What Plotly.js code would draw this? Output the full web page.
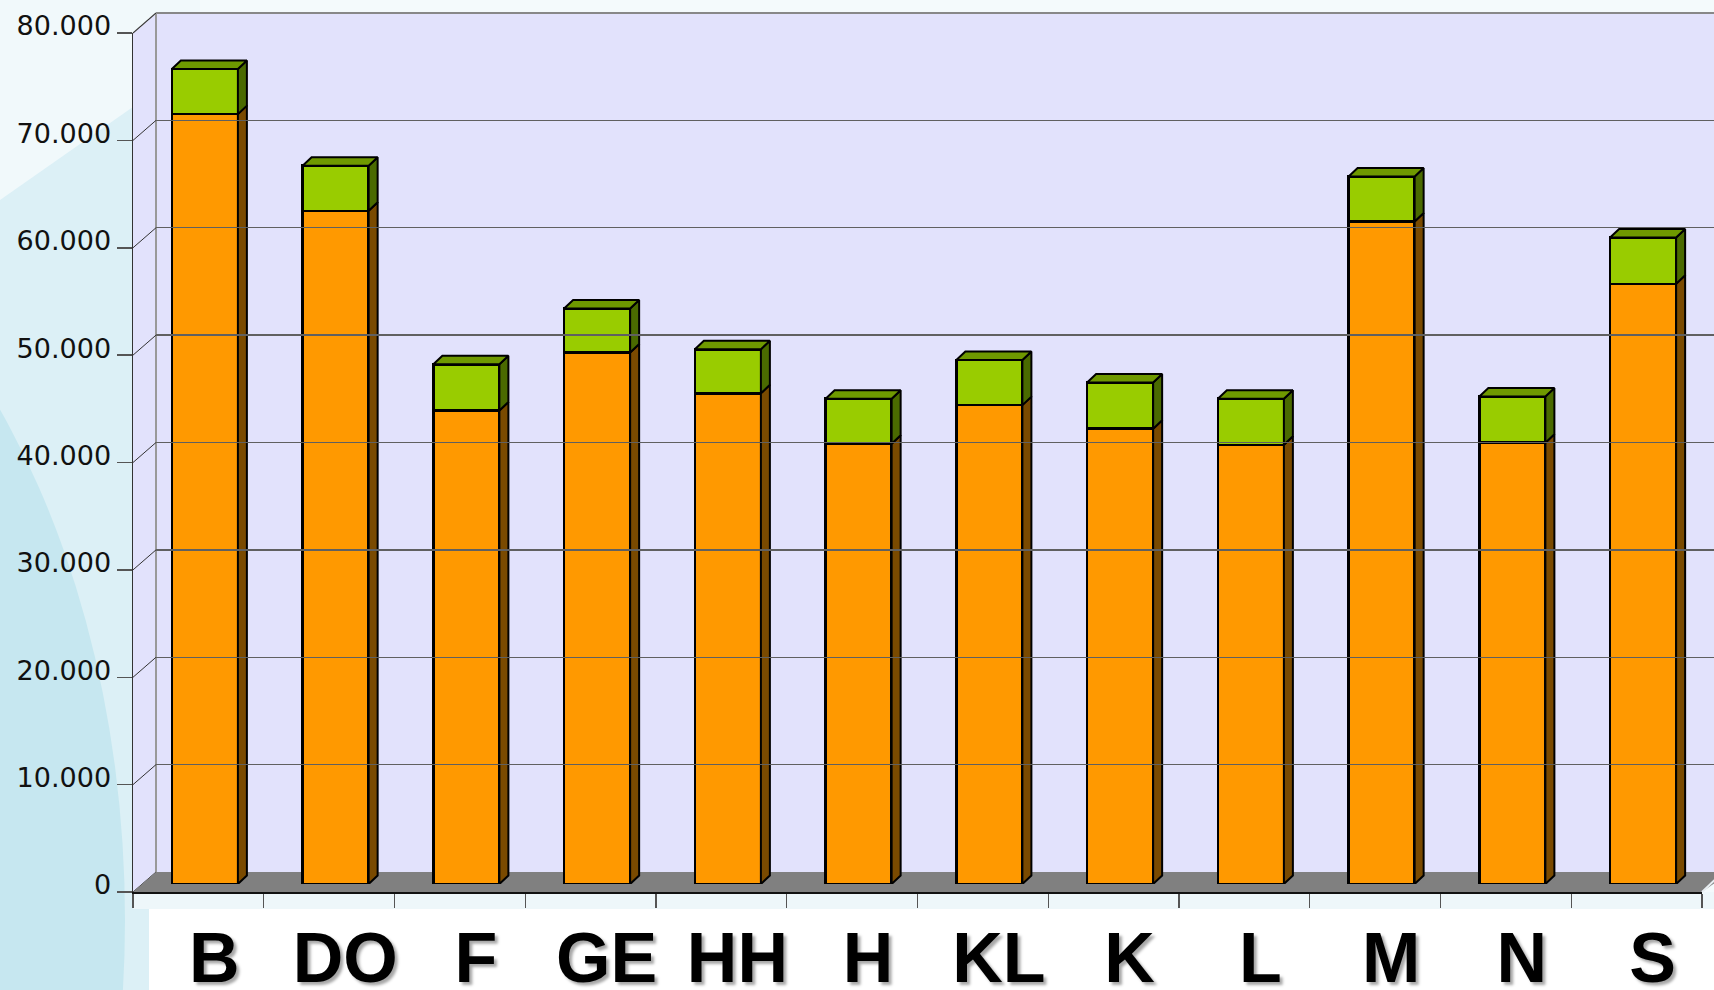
<!DOCTYPE html>
<html>
<head>
<meta charset="utf-8">
<script src="https://cdn.plot.ly/plotly-3.0.1.min.js"></script>
<style>html,body{margin:0;padding:0;background:#fff;}#chart{width:1714px;height:990px;}</style>
</head>
<body>
<div id="chart"></div>
<script>
// ---- data ----
const categories = ['B','DO','F','GE','HH','H','KL','K','L','M','N','S'];
const orangeValues = [71700, 62700, 44100, 49500, 45700, 41000, 44600, 42400, 40900, 61700, 41100, 55900];
const greenValues  = [4200, 4200, 4300, 4100, 4100, 4200, 4200, 4300, 4300, 4200, 4300, 4300];
const yTickValues = [0, 10000, 20000, 30000, 40000, 50000, 60000, 70000, 80000];

// ---- geometry helpers (pixels -> paper) ----
const W = 1714, H = 990;
const px = x => x / W;
const py = y => 1 - y / H;
const YMAX = 80000;
const frontTop = 33, frontBot = 892;   // front plane
const backTop = 13, backBot = 872;     // back wall
const barTop = 25, barBot = 884;       // plane of bar front faces
const leftFront = 133, leftBack = 156, rightFront = 1702;
const pxPerUnitY = (frontBot - frontTop) / YMAX;
const catPx = (rightFront - leftFront) / categories.length;

const n = categories.length;
const xIdx = categories.map((c, i) => i);
const barW = 0.505;
const dx = 9 / catPx;            // depth in x data units
const dy = 8.5 / pxPerUnitY;     // depth in y data units

const orangeSide = {x: [], y: []}, greenSide = {x: [], y: []}, greenTopF = {x: [], y: []};
for (let i = 0; i < n; i++) {
  const x0 = i - barW / 2, x1 = i + barW / 2;
  const o = orangeValues[i], t = orangeValues[i] + greenValues[i];
  orangeSide.x.push(x1, x1 + dx, x1 + dx, x1, x1, null);
  orangeSide.y.push(0, dy, o + dy, o, 0, null);
  greenSide.x.push(x1, x1 + dx, x1 + dx, x1, x1, null);
  greenSide.y.push(o, o + dy, t + dy, t, o, null);
  greenTopF.x.push(x0, x0 + dx, x1 + dx, x1, x0, null);
  greenTopF.y.push(t, t + dy, t + dy, t, t, null);
}

const faceTrace = (f, color) => ({
  type: 'scatter', mode: 'lines', x: f.x, y: f.y, fill: 'toself', fillcolor: color,
  line: {color: '#000', width: 2}, xaxis: 'x', yaxis: 'y', hoverinfo: 'skip', showlegend: false
});

const traces = [
  {type: 'bar', x: xIdx, y: orangeValues, width: barW, marker: {color: '#ff9900', line: {color: '#000', width: 2.5}},
   xaxis: 'x', yaxis: 'y', hoverinfo: 'skip', showlegend: false},
  {type: 'bar', x: xIdx, y: greenValues, width: barW, marker: {color: '#99cc00', line: {color: '#000', width: 2.5}},
   xaxis: 'x', yaxis: 'y', hoverinfo: 'skip', showlegend: false},
  faceTrace(orangeSide, '#7a4a00'),
  faceTrace(greenSide, '#4a6a00'),
  faceTrace(greenTopF, '#6f9900'),
  {type: 'scatter', x: [0], y: [0], mode: 'markers', marker: {opacity: 0}, xaxis: 'x2', yaxis: 'y2', hoverinfo: 'skip', showlegend: false},
  {type: 'scatter', x: [0], y: [0], mode: 'markers', marker: {opacity: 0}, xaxis: 'x3', yaxis: 'y3', hoverinfo: 'skip', showlegend: false},
  {type: 'scatter', x: [0], y: [0], mode: 'markers', marker: {opacity: 0}, xaxis: 'x4', yaxis: 'y3', hoverinfo: 'skip', showlegend: false}
];

// ---- decorative shapes ----
const shapes = [];
// background
shapes.push({type: 'rect', xref: 'paper', yref: 'paper', x0: 0, x1: 1, y0: 0, y1: 1, fillcolor: '#f4fafc', line: {width: 0}, layer: 'below'});
shapes.push({type: 'rect', xref: 'paper', yref: 'paper', x0: 0, x1: px(200), y0: 0, y1: 1, fillcolor: '#dcf0f6', line: {width: 0}, layer: 'below'});
shapes.push({type: 'circle', xref: 'paper', yref: 'paper', x0: px(-900), x1: px(125), y0: py(1700), y1: py(140), fillcolor: '#c6e7f0', line: {width: 0}, layer: 'below'});
shapes.push({type: 'path', xref: 'paper', yref: 'paper', path: `M 0 ${py(0)} L ${px(200)} ${py(0)} L ${px(200)} ${py(60)} L 0 ${py(200)} Z`, fillcolor: 'rgba(255,255,255,0.6)', line: {width: 0}, layer: 'below'});
// strip under the floor
shapes.push({type: 'rect', xref: 'paper', yref: 'paper', x0: px(leftFront), x1: 1, y0: py(909), y1: py(892), fillcolor: '#eef7fa', line: {width: 0}, layer: 'below'});
// white label box
shapes.push({type: 'rect', xref: 'paper', yref: 'paper', x0: px(149), x1: 1, y0: 0, y1: py(909), fillcolor: '#ffffff', line: {width: 0}, layer: 'below'});
// back wall
shapes.push({type: 'rect', xref: 'paper', yref: 'paper', x0: px(leftBack), x1: px(1730), y0: py(backBot), y1: py(backTop), fillcolor: '#e2e2fc', line: {width: 0}, layer: 'below'});
shapes.push({type: 'line', xref: 'paper', yref: 'paper', x0: px(leftBack), x1: 1, y0: py(backTop), y1: py(backTop), line: {color: '#888', width: 2}, layer: 'below'});
// left side wall
shapes.push({type: 'path', xref: 'paper', yref: 'paper',
  path: `M ${px(leftFront)} ${py(frontBot)} L ${px(leftFront)} ${py(frontTop)} L ${px(leftBack)} ${py(backTop)} L ${px(leftBack)} ${py(backBot)} Z`,
  fillcolor: '#e2e2fc', line: {width: 0}, layer: 'below'});
shapes.push({type: 'line', xref: 'paper', yref: 'paper', x0: px(leftBack), x1: px(leftBack), y0: py(backBot), y1: py(backTop), line: {color: '#999', width: 2}, layer: 'below'});
shapes.push({type: 'line', xref: 'paper', yref: 'paper', x0: px(leftFront), x1: px(leftBack), y0: py(frontTop), y1: py(backTop), line: {color: '#888', width: 1.5}, layer: 'below'});
// connectors from front ticks to back wall gridlines
yTickValues.forEach(v => {
  const yf = frontBot - v * pxPerUnitY, yb = backBot - v * pxPerUnitY;
  shapes.push({type: 'line', xref: 'paper', yref: 'paper', x0: px(leftFront), x1: px(leftBack), y0: py(yf), y1: py(yb), line: {color: '#333', width: 1}, layer: 'below'});
});
// floor
shapes.push({type: 'path', xref: 'paper', yref: 'paper',
  path: `M ${px(leftFront)} ${py(frontBot)} L ${px(leftBack)} ${py(backBot)} L ${px(1730)} ${py(backBot)} L ${px(rightFront)} ${py(frontBot)} Z`,
  fillcolor: '#808080', line: {width: 0}, layer: 'below'});
shapes.push({type: 'line', xref: 'paper', yref: 'paper', x0: px(rightFront), x1: px(1725), y0: py(frontBot), y1: py(870), line: {color: '#e8eef2', width: 2}, layer: 'below'});

const boundaries = [];
for (let i = 0; i <= n; i++) boundaries.push(i - 0.5);

const layout = {
  width: W, height: H,
  margin: {l: 0, r: 0, t: 0, b: 0},
  paper_bgcolor: '#ffffff',
  plot_bgcolor: 'rgba(0,0,0,0)',
  separators: ',.',
  barmode: 'stack',
  showlegend: false,
  shapes: shapes,
  // bars plane
  xaxis: {domain: [px(leftFront + 6.5), px(leftFront + 6.5 + catPx * n)], range: [-0.5, n - 0.5], visible: false, fixedrange: true},
  yaxis: {domain: [py(barBot), py(barTop)], range: [0, YMAX], visible: false, fixedrange: true},
  // back wall with gridlines
  xaxis2: {domain: [px(leftBack), 1], range: [0, 1], visible: false, anchor: 'y2'},
  yaxis2: {domain: [py(backBot), py(backTop)], range: [0, YMAX], anchor: 'x2', showgrid: true, gridcolor: '#606060', gridwidth: 1.3,
           dtick: 10000, tick0: 0, zeroline: false, showticklabels: false, ticks: '', showline: false},
  // front axes
  xaxis3: {domain: [px(leftFront), px(rightFront)], range: [-0.5, n - 0.5], anchor: 'y3', showgrid: false, zeroline: false,
           showline: true, linecolor: '#111', linewidth: 1.5, ticks: 'outside', tickmode: 'array', tickvals: boundaries,
           ticklen: 14, tickwidth: 1.3, tickcolor: '#555', showticklabels: false},
  yaxis3: {domain: [py(frontBot), py(frontTop)], range: [0, YMAX], anchor: 'x3', showgrid: false, zeroline: false,
           showline: true, linecolor: '#333', linewidth: 1.5, ticks: 'outside', ticklen: 15, tickwidth: 1.5, tickcolor: '#555',
           tickmode: 'array', tickvals: yTickValues, tickformat: ',', ticklabelstandoff: 0, ticklabelshift: -7,
           tickfont: {family: 'DejaVu Sans, Verdana, sans-serif', size: 27, color: '#111'}},
  // category labels
  xaxis4: {overlaying: 'x3', anchor: 'free', position: py(911), side: 'bottom',
           range: [-0.5 - 16 / catPx, n - 0.5 - 16 / catPx], showgrid: false, zeroline: false, showline: false, ticks: '',
           tickmode: 'array', tickvals: xIdx, ticktext: categories,
           tickfont: {family: 'Liberation Sans, Arial, sans-serif', size: 70, color: '#000', weight: 'bold',
                      shadow: '3px 3px 3px rgba(0,0,0,0.35)'}}
};

Plotly.newPlot('chart', traces, layout, {staticPlot: true, displayModeBar: false});
</script>
</body>
</html>
